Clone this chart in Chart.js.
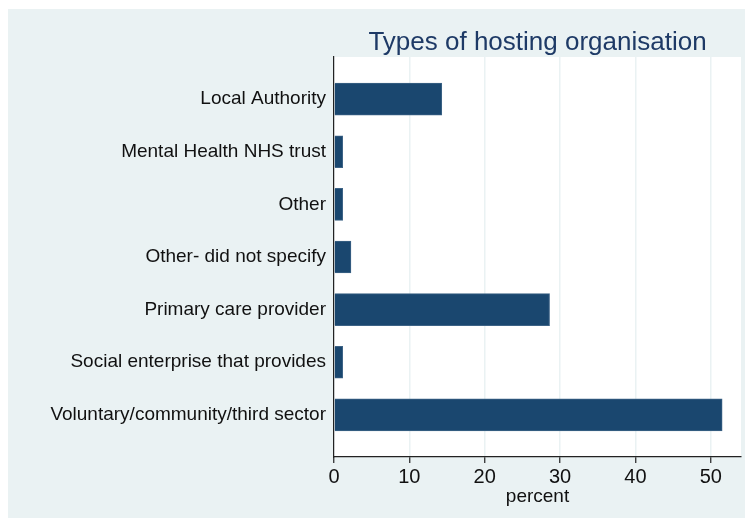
<!DOCTYPE html>
<html>
<head>
<meta charset="utf-8">
<script src="https://cdn.jsdelivr.net/npm/chart.js@4/dist/chart.umd.min.js"></script>
<style>
  html, body { margin: 0; padding: 0; background: #fff; }
  #wrap { width: 745px; height: 518px; }
</style>
</head>
<body>
<div id="wrap"><canvas id="myChart" width="745" height="518"></canvas></div>
<script>
// data
const categories = [
	"Local Authority",
	"Mental Health NHS trust",
	"Other",
	"Other- did not specify",
	"Primary care provider",
	"Social enterprise that provides",
	"Voluntary/community/third sector",
];
const percents = [14.3, 1.15, 1.15, 2.25, 28.6, 1.15, 51.5];
const xTicks = [0, 10, 20, 30, 40, 50];
const chartTitle = "Types of hosting organisation";

const panel = "#eaf2f3";
const navy = "#1a476f";
Chart.defaults.font.family = "'Liberation Sans', Arial, sans-serif";
Chart.defaults.color = "#111";

// stata-ish backdrop + title centred over the plot region
const backdrop = {
	id: "backdrop",
	beforeDraw(chart) {
		const c = chart.ctx;
		const a = chart.chartArea;
		c.save();
		c.fillStyle = "#fff";
		c.fillRect(0, 0, chart.width, chart.height);
		c.fillStyle = panel;
		c.fillRect(8, 9, chart.width - 8, chart.height - 9);
		c.fillStyle = "#fff";
		c.fillRect(a.left, a.top, a.right - a.left, a.bottom - a.top);
		c.restore();
	},
	afterDraw(chart) {
		const c = chart.ctx;
		const a = chart.chartArea;
		c.save();
		c.font = "26px 'Liberation Sans', Arial, sans-serif";
		c.fillStyle = "#1e3a66";
		c.textAlign = "center";
		c.textBaseline = "alphabetic";
		c.fillText(chartTitle, (a.left + a.right) / 2, 50);
		c.restore();
	},
};

const ctx = document.getElementById("myChart");
const myChart = new Chart(ctx, {
	type: "bar",
	data: {
		datasets: [
			{
				data: percents.map((v, i) => ({ x: v, y: i })),
				backgroundColor: navy,
				borderColor: "#3d6386",
				borderWidth: 1,
				barThickness: 32,
			},
		],
	},
	options: {
		indexAxis: "y",
		responsive: false,
		animation: false,
		layout: { padding: { left: 8, right: 4, top: 57, bottom: 0 } },
		plugins: {
			legend: { display: false },
			tooltip: { enabled: false },
		},
		scales: {
			x: {
				type: "linear",
				min: 0,
				max: 54,
				afterFit(scale) {
					scale.height = 61;
				},
				afterBuildTicks(scale) {
					scale.ticks = xTicks.map((v) => ({ value: v }));
				},
				ticks: { font: { size: 20 }, padding: 2, color: "#111" },
				grid: {
					color: panel,
					lineWidth: 1.5,
					tickLength: 6,
					tickColor: "#222",
					tickWidth: 1.2,
				},
				border: { color: "#222", width: 1.2 },
				title: {
					display: true,
					text: "percent",
					font: { size: 19 },
					padding: { top: 0, bottom: 10 },
					color: "#111",
				},
			},
			y: {
				type: "linear",
				reverse: true,
				min: -0.8,
				max: 6.8,
				offset: false,
				afterFit(scale) {
					scale.width = 326;
				},
				afterBuildTicks(scale) {
					scale.ticks = categories.map((c, i) => ({ value: i }));
				},
				ticks: {
					font: { size: 19 },
					padding: 8,
					color: "#111",
					callback: (v) => categories[v],
				},
				grid: { display: false, drawTicks: false, offset: false },
				border: { color: "#222", width: 1.2 },
			},
		},
	},
	plugins: [backdrop],
});
</script>
</body>
</html>
